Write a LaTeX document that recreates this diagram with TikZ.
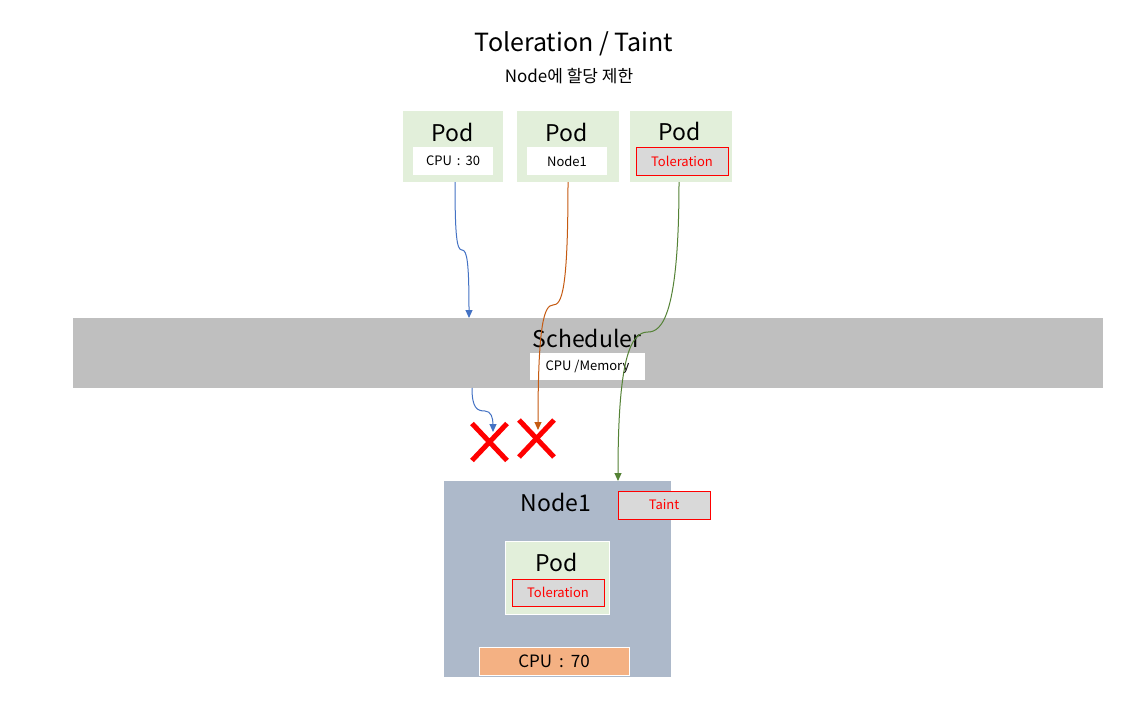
\documentclass[tikz,border=0pt]{standalone}
\usepackage{fontspec}
\setmainfont{Noto Sans CJK KR}
\usetikzlibrary{arrows.meta,shapes.misc}
\definecolor{podgreen}{HTML}{E2EFDA}
\definecolor{schedgray}{HTML}{BFBFBF}
\definecolor{nodeblue}{HTML}{ADB9CA}
\definecolor{lightgray}{HTML}{D9D9D9}
\definecolor{cpuorange}{HTML}{F4B183}
\definecolor{cblue}{HTML}{4472C4}
\definecolor{corange}{HTML}{C55A11}
\definecolor{cgreen}{HTML}{548235}
\definecolor{xred}{HTML}{FF0000}
\tikzset{
  box/.style={inner sep=0pt, outer sep=0pt},
  podbox/.style={box, fill=podgreen},
  whitebox/.style={box, fill=white, font=\fontsize{13}{15}\selectfont},
  tolbox/.style={box, fill=lightgray, draw=xred, line width=1pt, text=xred, font=\fontsize{13}{15}\selectfont},
  bigtext/.style={inner sep=0pt, font=\fontsize{23}{27}\selectfont},
  conn/.style={line width=1pt, -{Triangle[length=8pt,width=7pt]}},
  xmark/.style={cross out, draw=xred, line width=5pt, minimum width=30pt, minimum height=32pt, inner sep=0pt}
}
\begin{document}
\begin{tikzpicture}[x=1pt,y=-1pt]
\path[use as bounding box, fill=white] (0,0) rectangle (1141,701);

% title
\node[inner sep=0pt, font=\fontsize{25}{30}\selectfont] (title) at (574,44) {Toleration / Taint};
\node[inner sep=0pt, font=\fontsize{17}{20}\selectfont] (subtitle) at (569,76) {Node에 할당 제한};

% pods top
\node[podbox, minimum width=100pt, minimum height=71pt] (pod1) at (453,146.5) {};
\node[bigtext] (pod1t) at (453,132) {Pod};
\node[whitebox, minimum width=80pt, minimum height=28pt] (pod1b) at (453,161) {CPU\hspace{5pt}:\hspace{5pt}30};

\node[podbox, minimum width=102pt, minimum height=71pt] (pod2) at (568,146.5) {};
\node[bigtext] (pod2t) at (567,132) {Pod};
\node[whitebox, minimum width=80pt, minimum height=28pt] (pod2b) at (567,161) {Node1};

\node[podbox, minimum width=102pt, minimum height=71pt] (pod3) at (681,146.5) {};
\node[bigtext] (pod3t) at (680,131) {Pod};
\node[tolbox, minimum width=92pt, minimum height=28pt] (pod3b) at (682,161) {Toleration};

% scheduler
\node[box, fill=schedgray, minimum width=1030pt, minimum height=70pt] (sched) at (588,353) {};
\node[bigtext] (schedt) at (587,338) {Scheduler};
\node[whitebox, minimum width=115pt, minimum height=27pt] (schedb) at (587.5,366.5) {CPU /Memory};

% node1
\node[box, fill=nodeblue, minimum width=227pt, minimum height=196pt] (node1) at (557.5,579) {};
\node[bigtext] (node1t) at (556,502) {Node1};
\node[tolbox, minimum width=92pt, minimum height=28pt] (taint) at (664,505) {Taint};
\node[podbox, draw=white, line width=1pt, minimum width=104pt, minimum height=73pt] (ipod) at (557,577.5) {};
\node[bigtext] (ipodt) at (557,562) {Pod};
\node[tolbox, minimum width=92pt, minimum height=27pt] (ipodb) at (558,592.5) {Toleration};
\node[box, fill=cpuorange, draw=white, line width=1pt, minimum width=150pt, minimum height=28pt, font=\fontsize{17}{20}\selectfont] (cpu) at (554,661) {CPU\hspace{7pt}:\hspace{7pt}70};

% X marks
\node[xmark] (x1) at (489.5,442) {};
\node[xmark] (x2) at (536.5,438.5) {};

% connector end points
\coordinate (b1s) at (pod1.south -| 455,0);
\coordinate (b1e) at (sched.north -| 469,0);
\coordinate (b2s) at (sched.south -| 472,0);
\coordinate (b2e) at (493,432);
\coordinate (o1s) at (pod2.south -| 568,0);
\coordinate (o1e) at (538,430);
\coordinate (g1s) at (pod3.south -| 679,0);
\coordinate (g1e) at (node1.north -| 618,0);

% connectors
\draw[conn, cblue] (b1s) .. controls (455,238) and (457,250) .. (462,250) .. controls (467,250) and (469,262) .. (b1e);
\draw[conn, cblue] (b2s) .. controls (472,408) and (477,411) .. (485,411) .. controls (491,411) and (493,418) .. (b2e);
\draw[conn, corange] (o1s) .. controls (568,290) and (562,305) .. (553,305) .. controls (544,305) and (538,325) .. (o1e);
\draw[conn, cgreen] (g1s) .. controls (679,315) and (662,332) .. (648,332) .. controls (630,332) and (618,360) .. (g1e);
\end{tikzpicture}
\end{document}
